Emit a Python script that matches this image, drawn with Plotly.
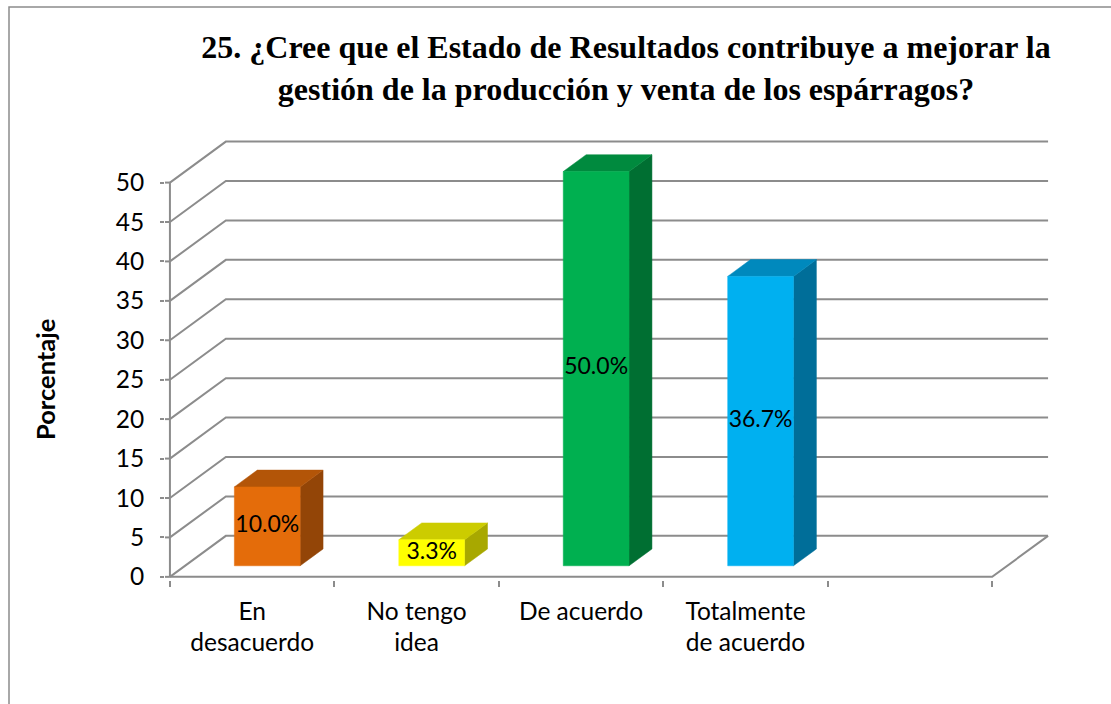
import plotly.graph_objects as go

# ---------------- data ----------------
categories = ["En<br>desacuerdo", "No tengo<br>idea", "De acuerdo", "Totalmente<br>de acuerdo"]
values = [10.0, 3.3, 50.0, 36.7]
labels = ["10.0%", "3.3%", "50.0%", "36.7%"]
front_colors = ["#E46C0A", "#FFFF00", "#00B050", "#00B0F0"]
top_colors = ["#B35508", "#CCCC00", "#008A3E", "#0089BD"]
side_colors = ["#934507", "#A8A800", "#006F32", "#006E99"]
y_ticks = list(range(0, 51, 5))
n_slots = 5
title_text = ("<b>25. ¿Cree que el Estado de Resultados contribuye a mejorar la<br>"
              "gestión de la producción y venta de los espárragos?</b>")

# ---------------- pseudo-3D geometry (axis units) ----------------
DX, DY = 0.34, 5.2          # depth offset of back wall
F0, F1 = 0.27, 0.68         # bar depth span (fraction of depth)
BAR_LO, BAR_HI = 0.30, 0.70  # bar span inside a category slot
GRID = "#8C8C8C"

W_FIG, H_FIG = 1111, 704
ML, MR, MT, MB = 165, 58, 140, 124
XR = [-0.03, 5.37]
YR = [-0.4, 55.4]

fig = go.Figure()

# grid lines / walls
gx, gy = [], []
for v in y_ticks:
    gx += [0, DX, n_slots + DX, None]
    gy += [v, v + DY, v + DY, None]
gx += [0, n_slots, n_slots + DX, None]
gy += [0, 0, DY, None]
gx += [0, 0, None]
gy += [0, max(y_ticks), None]
for v in y_ticks:
    gx += [XR[0], 0, None]
    gy += [v, v, None]
fig.add_trace(go.Scatter(x=gx, y=gy, mode="lines", line=dict(color=GRID, width=2),
                         hoverinfo="skip", showlegend=False))

# bars
for i, v in enumerate(values):
    xl, xr = i + BAR_LO, i + BAR_HI
    a0, a1 = F0 * DX, F1 * DX
    b0, b1 = F0 * DY, F1 * DY
    faces = [
        ([xr + a0, xr + a1, xr + a1, xr + a0, xr + a0], [b0, b1, v + b1, v + b0, b0], side_colors[i]),
        ([xl + a0, xr + a0, xr + a1, xl + a1, xl + a0], [v + b0, v + b0, v + b1, v + b1, v + b0], top_colors[i]),
        ([xl + a0, xr + a0, xr + a0, xl + a0, xl + a0], [b0, b0, v + b0, v + b0, b0], front_colors[i]),
    ]
    for fx, fy, col in faces:
        fig.add_trace(go.Scatter(x=fx, y=fy, mode="lines", fill="toself", fillcolor=col,
                                 line=dict(color=col, width=0.5), hoverinfo="skip", showlegend=False))
    fig.add_trace(go.Scatter(x=[(xl + xr) / 2 + a0], y=[b0 + v / 2], mode="text", text=[labels[i]],
                             textfont=dict(family="Lato", size=23, color="black"),
                             textposition="middle center", hoverinfo="skip", showlegend=False,
                             cliponaxis=False))

plot_w = W_FIG - ML - MR
plot_h = H_FIG - MT - MB


def px_x(p):
    return (p - ML) / plot_w


def px_y(p):
    return (H_FIG - MB - p) / plot_h


fig.update_layout(
    width=W_FIG, height=H_FIG,
    margin=dict(l=ML, r=MR, t=MT, b=MB),
    paper_bgcolor="white", plot_bgcolor="white",
    title=dict(text=title_text, x=626 / W_FIG, xanchor="center", xref="container",
               y=1 - 58 / H_FIG, yanchor="top", yref="container",
               font=dict(family="Liberation Serif", size=32, color="black")),
    xaxis=dict(range=XR, showgrid=False, zeroline=False, showline=False,
               tickmode="array", tickvals=[i + 0.5 for i in range(len(categories))],
               ticktext=categories, ticks="", ticklabelstandoff=14,
               tickfont=dict(family="Lato", size=24.5, color="black"),
               minor=dict(tickmode="array", tickvals=list(range(n_slots + 1)), ticks="outside",
                          ticklen=6, tickwidth=2, tickcolor=GRID)),
    yaxis=dict(range=YR, showgrid=False, zeroline=False, showline=False,
               tickmode="array", tickvals=y_ticks, ticks="outside", ticklen=4, tickwidth=2,
               tickcolor=GRID, ticklabelstandoff=11,
               tickfont=dict(family="Lato", size=24.5, color="black")),
    annotations=[dict(text="<b>Porcentaje</b>", textangle=-90, xref="paper", yref="paper",
                      x=px_x(45), y=px_y(380), xanchor="center", yanchor="middle", showarrow=False,
                      font=dict(family="Lato", size=25.5, color="black"))],
    shapes=[dict(type="rect", xref="paper", yref="paper", x0=px_x(9), x1=px_x(1120),
                 y0=px_y(715), y1=px_y(7), line=dict(color="#8C8C8C", width=1.5), layer="below")],
)

fig.write_html("out.html", config={"displayModeBar": False},
               post_script="document.body.style.margin='0';")
